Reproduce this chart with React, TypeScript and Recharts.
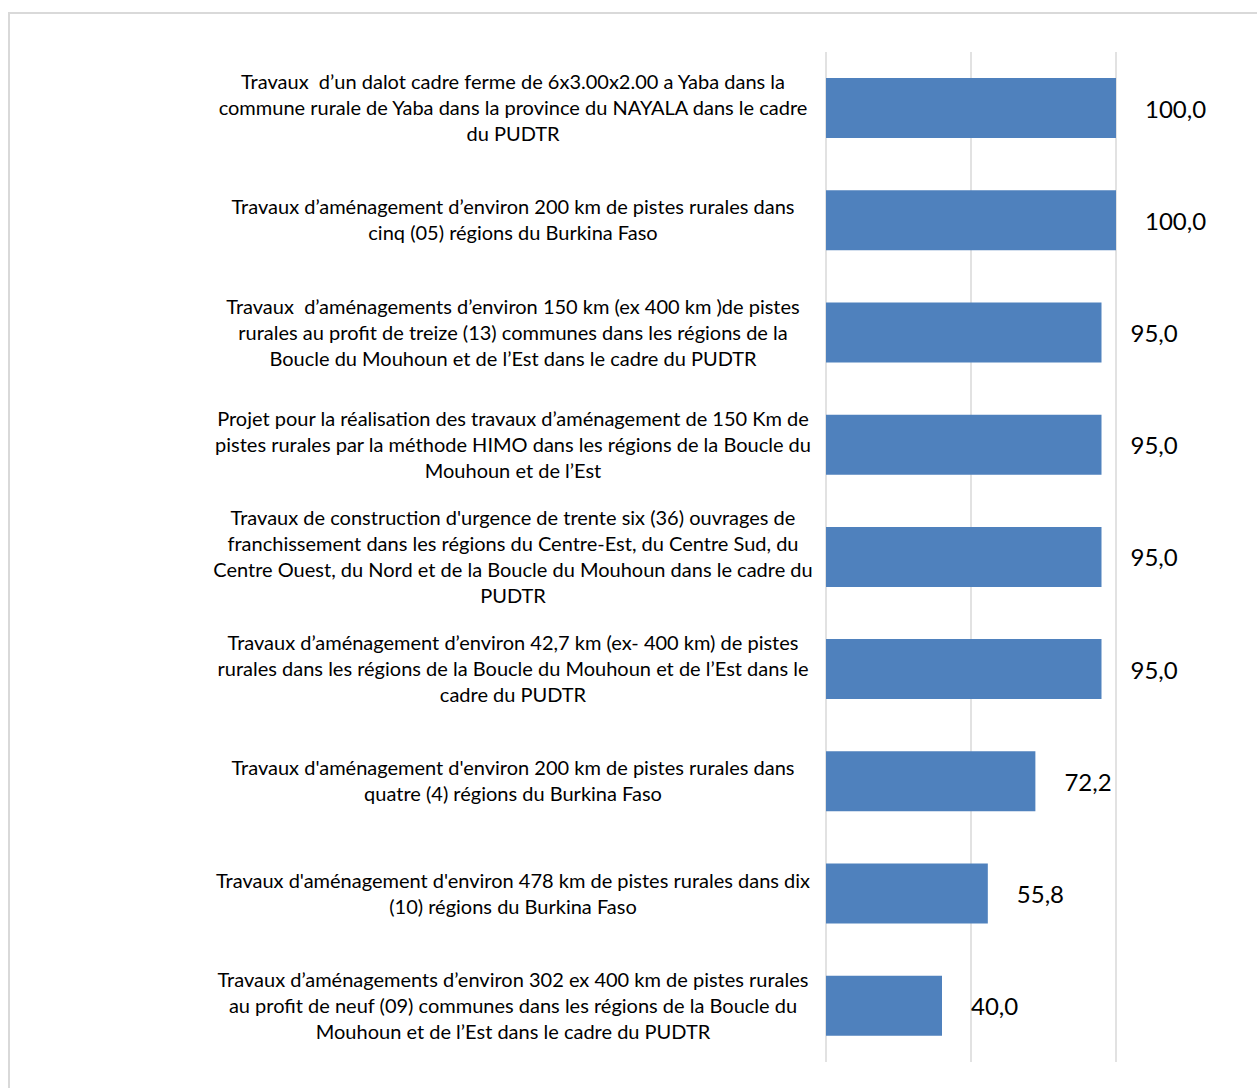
import React from 'react';
import { BarChart, Bar, XAxis, YAxis, CartesianGrid, LabelList } from 'recharts';

// project labels, one entry per line as in the source document
const projectLines: string[][] = [
    [
        'Travaux  d’un dalot cadre ferme de 6x3.00x2.00 a Yaba dans la',
        'commune rurale de Yaba dans la province du NAYALA dans le cadre',
        'du PUDTR',
    ],
    [
        'Travaux d’aménagement d’environ 200 km de pistes rurales dans',
        'cinq (05) régions du Burkina Faso',
    ],
    [
        'Travaux  d’aménagements d’environ 150 km (ex 400 km )de pistes',
        'rurales au profit de treize (13) communes dans les régions de la',
        'Boucle du Mouhoun et de l’Est dans le cadre du PUDTR',
    ],
    [
        'Projet pour la réalisation des travaux d’aménagement de 150 Km de',
        'pistes rurales par la méthode HIMO dans les régions de la Boucle du',
        'Mouhoun et de l’Est',
    ],
    [
        "Travaux de construction d'urgence de trente six (36) ouvrages de",
        'franchissement dans les régions du Centre-Est, du Centre Sud, du',
        'Centre Ouest, du Nord et de la Boucle du Mouhoun dans le cadre du',
        'PUDTR',
    ],
    [
        'Travaux d’aménagement d’environ 42,7 km (ex- 400 km) de pistes',
        'rurales dans les régions de la Boucle du Mouhoun et de l’Est dans le',
        'cadre du PUDTR',
    ],
    [
        "Travaux d'aménagement d'environ 200 km de pistes rurales dans",
        'quatre (4) régions du Burkina Faso',
    ],
    [
        "Travaux d'aménagement d'environ 478 km de pistes rurales dans dix",
        '(10) régions du Burkina Faso',
    ],
    [
        'Travaux d’aménagements d’environ 302 ex 400 km de pistes rurales',
        'au profit de neuf (09) communes dans les régions de la Boucle du',
        'Mouhoun et de l’Est dans le cadre du PUDTR',
    ],
];

// taux d'exécution (%)
const progress = [100, 100, 95, 95, 95, 95, 72.2, 55.8, 40];

const xTicks = [0, 50, 100];

const data = projectLines.map((lines, i) => ({
    name: lines.join(' '),
    value: progress[i],
}));

const linesByName: Record<string, string[]> = {};
data.forEach((d, i) => {
    linesByName[d.name] = projectLines[i];
});

const FONT = 'Lato, "Open Sans", sans-serif';

const ProjectTick = (props: any) => {
    const { x, y, payload } = props;
    const lines = linesByName[payload.value] || [String(payload.value)];
    const lineHeight = 26;
    const startY = y - 1 - ((lines.length - 1) * lineHeight) / 2;
    return (
        <text
            x={x - 305}
            y={startY}
            textAnchor="middle"
            fontFamily={FONT}
            fontSize={20}
            fill="#000"
            style={{ whiteSpace: 'pre' }}
        >
            {lines.map((line, i) => (
                <tspan key={i} x={x - 305} y={startY + i * lineHeight} dominantBaseline="central">
                    {line}
                </tspan>
            ))}
        </text>
    );
};

const ValueLabel = (props: any) => {
    const { x, y, width, height, value } = props;
    return (
        <text
            x={x + width + 29}
            y={y + height / 2}
            dominantBaseline="central"
            fontFamily={FONT}
            fontSize={24}
            fill="#000"
        >
            {Number(value).toFixed(1).replace('.', ',')}
        </text>
    );
};

const App: React.FC = () => {
    return (
        <div
            style={{
                position: 'absolute',
                left: 0,
                top: 0,
                width: 1257,
                height: 1088,
                overflow: 'hidden',
                background: '#fff',
            }}
        >
            <div
                style={{
                    position: 'absolute',
                    left: 8,
                    top: 12,
                    width: 1300,
                    height: 1100,
                    border: '2px solid #d9d9d9',
                    boxSizing: 'border-box',
                }}
            />
            <div style={{ position: 'absolute', left: 0, top: 0 }}>
                <BarChart
                    width={1257}
                    height={1088}
                    data={data}
                    layout="vertical"
                    margin={{ top: 52, right: 141, bottom: 26, left: 0 }}
                    barSize={60}
                >
                    <CartesianGrid
                        horizontal={false}
                        stroke="#d9d9d9"
                        strokeWidth={1.5}
                    />
                    <XAxis
                        type="number"
                        domain={[0, 100]}
                        ticks={xTicks}
                        hide
                    />
                    <YAxis
                        type="category"
                        dataKey="name"
                        width={826}
                        axisLine={false}
                        tickLine={false}
                        tick={<ProjectTick />}
                        interval={0}
                    />
                    <Bar dataKey="value" fill="#4f81bd" isAnimationActive={false}>
                        <LabelList dataKey="value" content={<ValueLabel />} />
                    </Bar>
                </BarChart>
            </div>
        </div>
    );
};

export default App;
